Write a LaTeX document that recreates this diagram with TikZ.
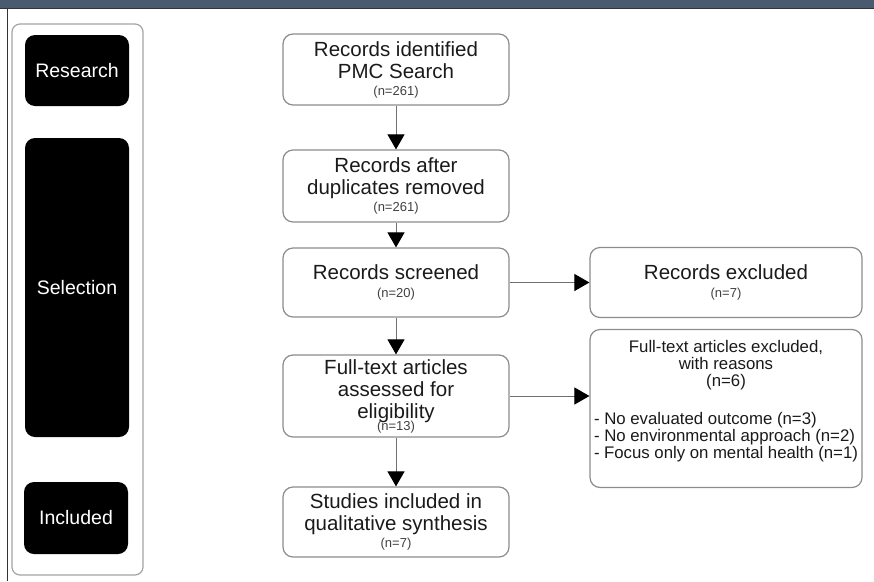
\documentclass[tikz,border=0pt]{standalone}
\usepackage{fontspec}
\setmainfont{Liberation Sans}
\usetikzlibrary{arrows.meta}
\definecolor{barblue}{HTML}{4A5A70}
\definecolor{boxgray}{HTML}{8C8C8C}
\definecolor{linegray}{HTML}{707070}
\definecolor{textdark}{HTML}{1A1A1A}
\definecolor{cntgray}{HTML}{404040}
\newcommand\ncount[1]{{\fontsize{13}{13}\selectfont\color{cntgray}#1}}
\begin{document}
\begin{tikzpicture}[x=1pt,y=-1pt,
  mainbox/.style={draw=boxgray, line width=1.2pt, rounded corners=10pt,
    minimum width=226pt, inner sep=0pt, align=center, text=textdark,
    font=\fontsize{20.5}{22}\selectfont},
  sidebox/.style={draw=boxgray, line width=1.2pt, rounded corners=10pt,
    minimum width=272pt, inner sep=0pt, align=center, text=textdark},
  phase/.style={fill=black, rounded corners=10pt, text=white, inner sep=0pt,
    font=\fontsize{19.5}{22}\selectfont},
  flow/.style={draw=linegray, line width=1pt,
    -{Triangle[length=15pt,width=17pt,color=black]}}
]
\useasboundingbox (0,0) rectangle (874,581);
% top bar and left rule
\fill[barblue] (0,0) rectangle (874,8.5);
\draw[black!80, line width=1pt] (0,8.5) -- (874,8.5);
\draw[black!80, line width=1pt] (7.5,9) -- (7.5,581);

% left panel
\node[draw=boxgray!80, line width=1.2pt, rounded corners=8pt, minimum width=131pt,
  minimum height=551pt, inner sep=0pt] (panel) at (77.5,299.5) {};
\node[phase, minimum width=104pt, minimum height=71pt] (research) at (77,70.5) {Research};
\node[phase, minimum width=104pt, minimum height=299pt] (selection) at (77,287.5) {Selection};
\node[phase, minimum width=104pt, minimum height=72pt] (included) at (76,518) {Included};

% main flow
\node[mainbox, minimum height=71pt] (b1) at (396,69.5)
  {Records identified\\PMC Search\\[-5pt]\ncount{(n=261)}};
\node[mainbox, minimum height=72pt] (b2) at (396,186)
  {Records after\\duplicates removed\\[-5pt]\ncount{(n=261)}};
\node[mainbox, minimum height=69pt] (b3) at (396,282.5)
  {Records screened\\[-4pt]\ncount{(n=20)}};
\node[mainbox, minimum height=82pt] (b4) at (396,396)
  {Full-text articles\\assessed for\\eligibility\\[-10pt]\ncount{(n=13)}};
\node[mainbox, minimum height=70pt] (b5) at (396,522)
  {Studies included in\\qualitative synthesis\\[-5pt]\ncount{(n=7)}};

% side boxes
\node[sidebox, minimum height=70pt, font=\fontsize{20.5}{22}\selectfont] (r1) at (726,282.5)
  {Records excluded\\[-4pt]\ncount{(n=7)}};
\node[sidebox, minimum height=158pt] (r2) at (726,408.5)
  {\parbox{264pt}{\fontsize{16.8}{17}\selectfont
    \centering Full-text articles excluded,\\with reasons\\(n=6)\par
    \vspace{21pt}
    \raggedright - No evaluated outcome (n=3)\\- No environmental approach (n=2)\\- Focus only on mental health (n=1)\par
    \vspace{14pt}}};

% connectors
\draw[flow] (b1) -- (b2);
\draw[flow] (b2) -- (b3);
\draw[flow] (b3) -- (b4);
\draw[flow] (b4) -- (b5);
\draw[flow] (b3) -- (r1);
\draw[flow] (b4.east) -- (b4.east -| r2.west);
\end{tikzpicture}
\end{document}
